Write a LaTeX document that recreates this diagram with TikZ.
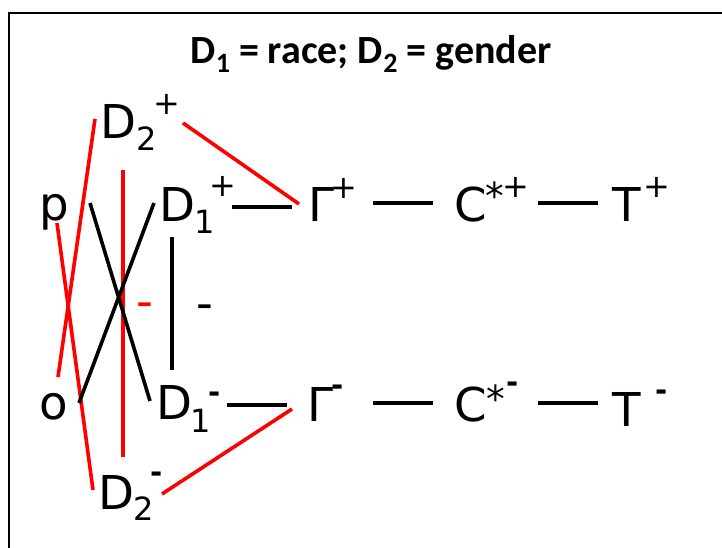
\documentclass[tikz,border=0pt]{standalone}
\usepackage{fontspec}
\setmainfont{DejaVu Sans}
\newfontfamily\titlefont{Carlito}
\begin{document}
\begin{tikzpicture}[x=0.75pt,y=-0.75pt,
  lbl/.style={inner sep=0pt,outer sep=0pt,anchor=base west,font=\fontsize{35}{40}\selectfont},
  subl/.style={inner sep=0pt,outer sep=0pt,anchor=base west,font=\fontsize{24}{28}\selectfont},
  supl/.style={inner sep=0pt,outer sep=0pt,anchor=base west,font=\fontsize{24}{28}\selectfont},
  minl/.style={inner sep=0pt,outer sep=0pt,anchor=base west,font=\bfseries\fontsize{22}{26}\selectfont},
  starl/.style={inner sep=0pt,outer sep=0pt,anchor=base west,font=\fontsize{28}{32}\selectfont},
  blk/.style={draw=black,line width=2.7pt},
  rd/.style={draw=red,line width=2.7pt}]
\useasboundingbox (0,0) rectangle (722,548);
\fill[white] (0,0) rectangle (722,548);
% frame
\draw[line width=1.6pt] (9,548) -- (9,13) -- (722,13);
% title
\node[inner sep=0pt,anchor=base,font=\titlefont\bfseries\fontsize{30}{34}\selectfont] (title) at (371,64)
  {D\raisebox{-0.21em}{\fontsize{21}{21}\selectfont 1} = race; D\raisebox{-0.21em}{\fontsize{21}{21}\selectfont 2} = gender};
% main labels
\node[lbl] (D2p) at (100,139) {D};
\node[subl] (D2psub) at (136,151) {2};
\node[supl] (D2psup) at (153,115) {+};
\node[lbl] (p) at (39,221) {p};
\node[lbl] (D1p) at (159,222) {D};
\node[subl] (D1psub) at (194.5,234) {1};
\node[supl] (D1psup) at (209,197) {+};
\node[lbl] (Gp) at (308,222) {Γ};
\node[supl] (Gpsup) at (330,199) {+};
\node[lbl] (Cp) at (454,222) {C};
\node[starl] (Cpstar) at (485,210) {*};
\node[supl] (Cpsup) at (502,198) {+};
\node[lbl] (Tp) at (612,222) {T};
\node[supl] (Tpsup) at (643,198) {+};
\node[lbl] (o) at (39.5,420) {o};
\node[lbl] (D1m) at (156,420) {D};
\node[subl] (D1msub) at (190.5,433) {1};
\node[minl] (D1msup) at (208,403) {-};
\node[lbl] (Gm) at (307,422) {Γ};
\node[minl] (Gmsup) at (331,396) {-};
\node[lbl] (Cm) at (454,422) {C};
\node[starl] (Cmstar) at (486,413) {*};
\node[minl] (Cmsup) at (506,393) {-};
\node[lbl] (Tm) at (612,427) {T};
\node[minl] (Tmsup) at (655,401) {-};
\node[lbl] (D2m) at (98,510) {D};
\node[subl] (D2msub) at (133,521) {2};
\node[minl] (D2msup) at (150,483) {-};
\node[lbl,text=red] (redminus) at (136,318) {-};
\node[lbl] (blackminus) at (196,320) {-};
% red connectors
\draw[rd] ([shift={(18.5,-43)}]o.base west) -- ([shift={(-5,-20)}]D2p.base west);
\draw[rd] ([shift={(18,2)}]p.base west) -- ([shift={(-5,-20)}]D2m.base west);
\draw[rd] ([shift={(23,31)}]D2p.base west) -- ([shift={(25,-53)}]D2m.base west);
\draw[rd] ([shift={(83,-16)}]D2p.base west) -- ([shift={(-9,-18)}]Gp.base west);
\draw[rd] ([shift={(64,-16)}]D2m.base west) -- ([shift={(-15,-13)}]Gm.base west);
% black connectors
\draw[blk] ([shift={(51,-18)}]p.base west) -- ([shift={(-6,-19)}]D1m.base west);
\draw[blk] ([shift={(-5,-19)}]D1p.base west) -- ([shift={(39.5,-17)}]o.base west);
\draw[blk] ([shift={(13,15)}]D1p.base west) -- ([shift={(16,-50)}]D1m.base west);
\draw[blk] ([shift={(73,-15)}]D1p.base west) -- ([shift={(-16,-15)}]Gp.base west);
\draw[blk] ([shift={(65,-19)}]Gp.base west) -- ([shift={(-21,-19)}]Cp.base west);
\draw[blk] ([shift={(84,-19)}]Cp.base west) -- ([shift={(-14,-19)}]Tp.base west);
\draw[blk] ([shift={(71,-15)}]D1m.base west) -- ([shift={(-20,-17)}]Gm.base west);
\draw[blk] ([shift={(66,-19)}]Gm.base west) -- ([shift={(-21,-19)}]Cm.base west);
\draw[blk] ([shift={(84,-19)}]Cm.base west) -- ([shift={(-14,-24)}]Tm.base west);
\end{tikzpicture}
\end{document}
